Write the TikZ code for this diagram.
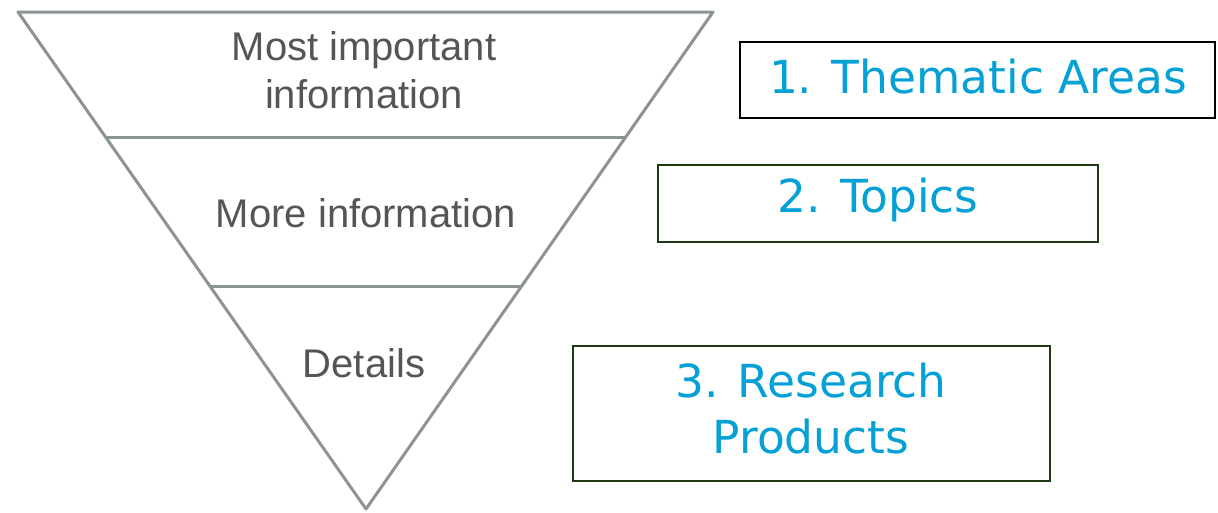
\documentclass[tikz,border=0pt]{standalone}
\usepackage{fontspec}
\setmainfont{Liberation Sans}
\newfontfamily\boxfont{DejaVu Sans}
\usetikzlibrary{calc}
\definecolor{trigray}{HTML}{8C9494}
\definecolor{txtgray}{HTML}{555555}
\definecolor{bluetxt}{HTML}{05A0D6}
\definecolor{boxgreen}{HTML}{1E3A12}
\tikzset{
  triline/.style={draw=trigray, line width=3pt, line join=round},
  graylabel/.style={text=txtgray, font=\fontsize{40}{48}\selectfont, align=center, inner sep=0pt},
  bluebox/.style={draw=#1, line width=1.6pt, line join=miter},
  bluetext/.style={text=bluetxt, font=\boxfont\fontsize{45.5}{56}\selectfont, align=center, inner sep=0pt},
}
\begin{document}
\begin{tikzpicture}[x=1pt,y=-1pt]
\useasboundingbox (0,0) rectangle (1218,512);
\coordinate (A) at (18,12);
\coordinate (B) at (713,12);
\coordinate (C) at (366,509);
\coordinate (L1) at ($(A)!0.252!(C)$);
\coordinate (R1) at ($(B)!0.252!(C)$);
\coordinate (L2) at ($(A)!0.553!(C)$);
\coordinate (R2) at ($(B)!0.553!(C)$);
\draw[triline] (A) -- (B) -- (C) -- cycle;
\draw[triline] (L1) -- (R1);
\draw[triline] (L2) -- (R2);
\node[graylabel] (t1) at (364,70) {Most important\\information};
\node[graylabel] (t2) at (366,213) {More information};
\node[graylabel] (t3) at (364,363) {Details};
\node[bluebox=black, minimum width=475pt, minimum height=76pt] (b1) at (977.5,80) {};
\node[bluebox=boxgreen, minimum width=440pt, minimum height=77pt] (b2) at (878,203.5) {};
\node[bluebox=boxgreen, minimum width=477pt, minimum height=135pt] (b3) at (811.5,413.5) {};
\node[bluetext] (l1) at (978,77) {1. Thematic Areas};
\node[bluetext] (l2) at (878,200) {2. Topics};
\node[bluetext] (l3) at (811,409) {3. Research\\Products};
\end{tikzpicture}
\end{document}
